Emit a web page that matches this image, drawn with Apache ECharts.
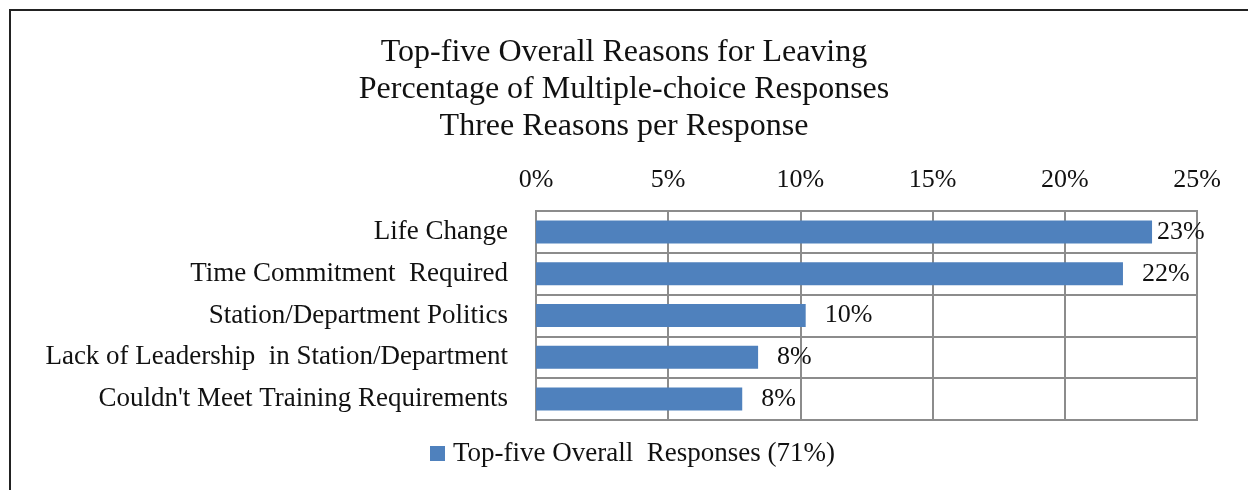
<!DOCTYPE html>
<html>
<head>
<meta charset="utf-8">
<script src="https://cdn.jsdelivr.net/npm/echarts@6/dist/echarts.min.js"></script>
<style>
  html, body { margin: 0; padding: 0; background: #fff; }
  #frame {
    position: absolute; left: 9px; top: 9px; width: 1300px; height: 600px;
    border-left: 2px solid #222; border-top: 2px solid #222;
  }
  #chart { position: absolute; left: 0; top: 0; width: 1248px; height: 490px; }
</style>
</head>
<body>
<div id="frame"></div>
<div id="chart"></div>
<script>
// Top-five reasons for leaving, share of multiple-choice responses (%)
const reasons = [
  'Life Change',
  'Time Commitment  Required',
  'Station/Department Politics',
  'Lack of Leadership  in Station/Department',
  "Couldn't Meet Training Requirements"
];
const shares = [23.3, 22.2, 10.2, 8.4, 7.8];
const axisTicks = [0, 5, 10, 15, 20, 25];
const seriesName = 'Top-five Overall  Responses (71%)';
const titleLines = [
  'Top-five Overall Reasons for Leaving',
  'Percentage of Multiple-choice Responses',
  'Three Reasons per Response'
];

const serif = '"Liberation Serif", "DejaVu Serif", serif';
const gridColor = '#8c8c8c';
const barColor = '#4f81bd';

const chart = echarts.init(document.getElementById('chart'), null, { renderer: 'canvas' });

chart.setOption({
  animation: false,
  title: {
    text: titleLines.join('\n'),
    left: 619,
    textAlign: 'center',
    top: 29,
    textStyle: { fontFamily: serif, fontSize: 32, fontWeight: 'normal', color: '#111', lineHeight: 37 }
  },
  legend: {
    bottom: 18,
    left: 425,
    itemWidth: 15,
    itemHeight: 15,
    itemGap: 8,
    icon: 'rect',
    textStyle: { fontFamily: serif, fontSize: 27, color: '#111', padding: [0, 0, 0, 3] },
    data: [seriesName]
  },
  grid: { left: 536, right: 51, top: 211, bottom: 70, containLabel: false, show: true, borderColor: gridColor, borderWidth: 2 },
  xAxis: {
    type: 'value',
    position: 'top',
    min: axisTicks[0],
    max: axisTicks[axisTicks.length - 1],
    interval: axisTicks[1] - axisTicks[0],
    axisLine: { show: false },
    axisTick: { show: false },
    axisLabel: { fontFamily: serif, fontSize: 26, color: '#111', margin: 18, formatter: v => v + '%' },
    splitLine: { show: true, lineStyle: { color: gridColor, width: 2 } }
  },
  yAxis: {
    type: 'category',
    inverse: true,
    data: reasons,
    axisLine: { show: false },
    axisTick: { show: false },
    axisLabel: { fontFamily: serif, fontSize: 27, color: '#111', margin: 28 },
    splitLine: { show: true, lineStyle: { color: gridColor, width: 2 } }
  },
  series: [{
    name: seriesName,
    type: 'bar',
    barWidth: '55%',
    itemStyle: { color: barColor },
    data: shares.map((v, i) => ({
      value: v,
      label: { distance: i === 0 ? 5 : 19 }
    })),
    label: {
      show: true,
      position: 'right',
      fontFamily: serif,
      fontSize: 26,
      color: '#111',
      formatter: p => Math.round(p.value) + '%'
    }
  }]
});
</script>
</body>
</html>
